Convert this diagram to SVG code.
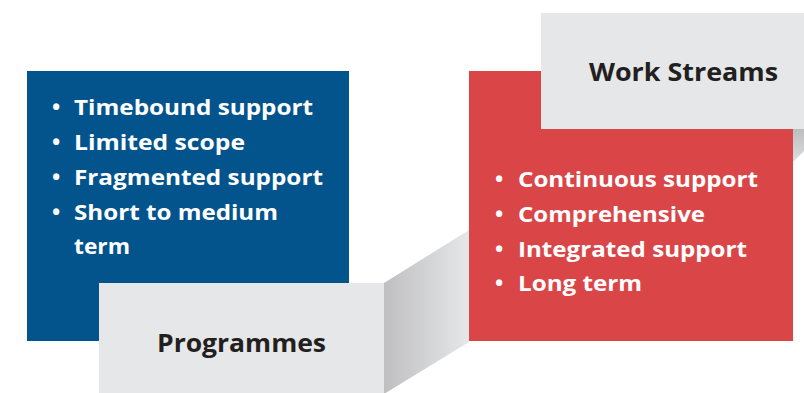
<svg xmlns="http://www.w3.org/2000/svg" width="804" height="393" viewBox="0 0 804 393">
<defs>
<linearGradient id="bandH" x1="384" y1="0" x2="469" y2="0" gradientUnits="userSpaceOnUse">
<stop offset="0" stop-color="#bfbfc2"/>
<stop offset="1" stop-color="#e6e7e9"/>
</linearGradient>
<linearGradient id="bandV" x1="0" y1="129" x2="0" y2="162" gradientUnits="userSpaceOnUse">
<stop offset="0" stop-color="#bdbdc0"/>
<stop offset="1" stop-color="#dcdddf"/>
</linearGradient>
<style>
.item{font-family:"Open Sans","Liberation Sans",sans-serif;font-weight:700;font-size:22px;fill:#ffffff}
.title{font-family:"Open Sans","Liberation Sans",sans-serif;font-weight:700;font-size:25px;fill:#231f20}
.label{fill:#e6e7e9}
</style>
</defs>
<rect width="804" height="393" fill="#ffffff"/>
<g id="connectors">
<polygon points="384,283 469,230 469,342 384,394" fill="url(#bandH)"/>
<polygon points="793,129 804,129 804,151 793,162" fill="url(#bandV)"/>
</g>
<g id="programmes-box">
<rect x="27" y="71" width="322" height="270" fill="#03548d"/>
<text class="item" x="52" y="115">•</text>
<text class="item" x="74" y="115" textLength="239" lengthAdjust="spacingAndGlyphs">Timebound support</text>
<text class="item" x="52" y="150">•</text>
<text class="item" x="74" y="150" textLength="171" lengthAdjust="spacingAndGlyphs">Limited scope</text>
<text class="item" x="52" y="185">•</text>
<text class="item" x="74" y="185" textLength="249" lengthAdjust="spacingAndGlyphs">Fragmented support</text>
<text class="item" x="52" y="220">•</text>
<text class="item" x="74" y="220" textLength="204" lengthAdjust="spacingAndGlyphs">Short to medium</text>
<text class="item" x="74" y="254" textLength="56" lengthAdjust="spacingAndGlyphs">term</text>
</g>
<g id="programmes-label">
<rect class="label" x="99" y="283" width="285" height="110"/>
<text class="title" x="157" y="352" textLength="169" lengthAdjust="spacingAndGlyphs">Programmes</text>
</g>
<g id="workstreams-box">
<rect x="469" y="71" width="324" height="270" fill="#da4647"/>
<text class="item" x="495" y="187">•</text>
<text class="item" x="518" y="187" textLength="240" lengthAdjust="spacingAndGlyphs">Continuous support</text>
<text class="item" x="495" y="222">•</text>
<text class="item" x="518" y="222" textLength="187" lengthAdjust="spacingAndGlyphs">Comprehensive</text>
<text class="item" x="495" y="257">•</text>
<text class="item" x="518" y="257" textLength="229" lengthAdjust="spacingAndGlyphs">Integrated support</text>
<text class="item" x="495" y="291">•</text>
<text class="item" x="518" y="291" textLength="124" lengthAdjust="spacingAndGlyphs">Long term</text>
</g>
<g id="workstreams-label">
<rect class="label" x="541" y="13" width="263" height="116"/>
<text class="title" x="589" y="81" textLength="189" lengthAdjust="spacingAndGlyphs">Work Streams</text>
</g>
</svg>
